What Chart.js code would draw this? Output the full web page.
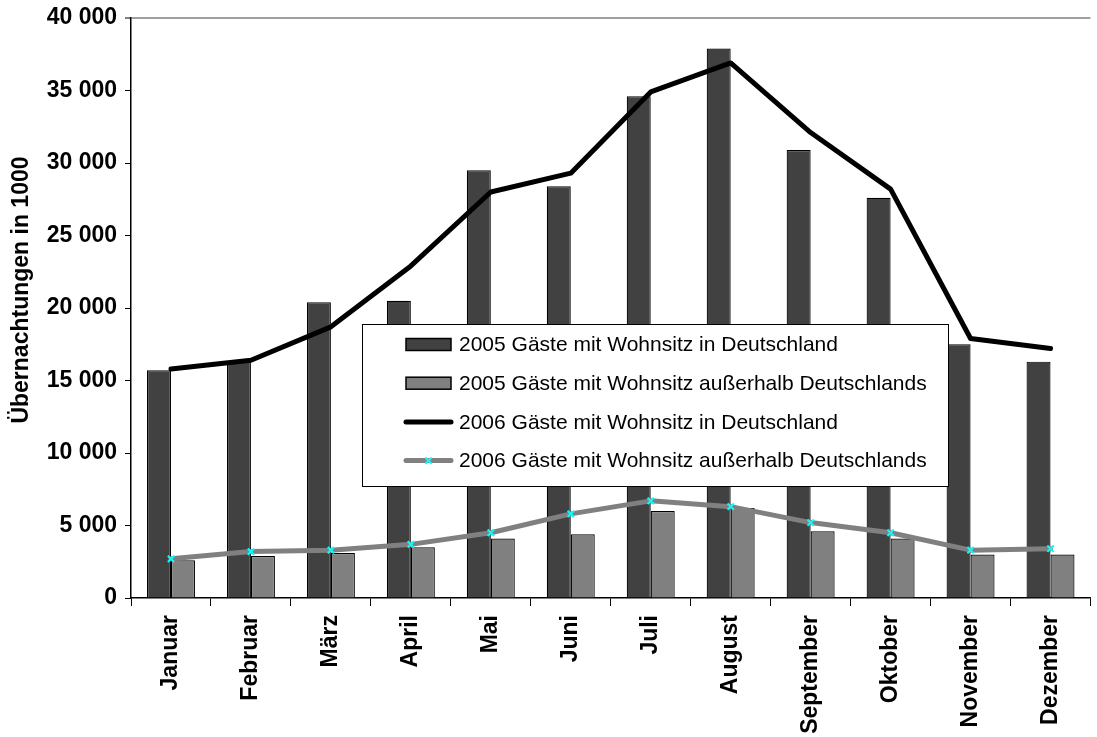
<!DOCTYPE html>
<html lang="de">
<head>
<meta charset="utf-8">
<title>Übernachtungen 2005 und 2006</title>
<script src="https://cdn.jsdelivr.net/npm/chart.js@4/dist/chart.umd.min.js"></script>
<style>
  html, body { margin: 0; padding: 0; background: #fff; }
  #wrap { position: relative; width: 1097px; height: 737px; }
</style>
</head>
<body>
<div id="wrap"><canvas id="chart"></canvas></div>
<script>
// Monate
const months = ['Januar', 'Februar', 'März', 'April', 'Mai', 'Juni', 'Juli',
                'August', 'September', 'Oktober', 'November', 'Dezember'];

// Übernachtungen in 1000
const inland2005  = [15700, 16300, 20400, 20500, 29500, 28400, 34600, 37900, 30900, 27600, 17500, 16300];
const ausland2005 = [2600, 2900, 3100, 3500, 4100, 4400, 6000, 6200, 4600, 4100, 3000, 3000];
const inland2006  = [15800, 16400, 18700, 22900, 28000, 29300, 34900, 36900, 32100, 28200, 17900, 17200];
const ausland2006 = [2700, 3200, 3300, 3700, 4500, 5800, 6700, 6300, 5200, 4500, 3300, 3400];

const seriesNames = [
  '2005 Gäste mit Wohnsitz in Deutschland',
  '2005 Gäste mit Wohnsitz außerhalb Deutschlands',
  '2006 Gäste mit Wohnsitz in Deutschland',
  '2006 Gäste mit Wohnsitz außerhalb Deutschlands'
];
const yTitle = 'Übernachtungen in 1000';
const yMin = 0, yMax = 40000, yStep = 5000;

const FONT = '"Liberation Sans", Arial, Helvetica, sans-serif';
Chart.defaults.font.family = FONT;
Chart.defaults.color = '#000';

function fmt(v) {
  return String(v).replace(/\B(?=(\d{3})+(?!\d))/g, ' ');
}

// Legend box drawn inside the plot area, on top of the columns
const boxLegend = {
  id: 'boxLegend',
  afterDatasetsDraw(chart, args, o) {
    const ctx = chart.ctx;
    ctx.save();
    ctx.fillStyle = '#fff';
    ctx.fillRect(o.x, o.y, o.w, o.h);
    ctx.strokeStyle = '#000';
    ctx.lineWidth = 1;
    ctx.strokeRect(o.x + 0.5, o.y + 0.5, o.w, o.h);
    ctx.font = o.fontSize + 'px ' + FONT;
    ctx.textBaseline = 'middle';
    ctx.textAlign = 'left';
    chart.data.datasets.forEach((ds, i) => {
      const cy = o.firstRow + i * o.rowGap;
      const mx = o.x + o.markerX;
      if (ds.type === 'line') {
        ctx.strokeStyle = ds.borderColor;
        ctx.lineWidth = ds.borderWidth;
        ctx.lineCap = 'round';
        ctx.beginPath();
        ctx.moveTo(mx, cy);
        ctx.lineTo(mx + o.markerW, cy);
        ctx.stroke();
        if (ds.pointRadius > 0) {
          const r = ds.pointRadius * Math.SQRT1_2;
          const px = mx + o.markerW / 2;
          ctx.strokeStyle = ds.pointBorderColor;
          ctx.lineWidth = ds.pointBorderWidth;
          ctx.lineCap = 'butt';
          ctx.beginPath();
          ctx.moveTo(px - r, cy - r); ctx.lineTo(px + r, cy + r);
          ctx.moveTo(px + r, cy - r); ctx.lineTo(px - r, cy + r);
          ctx.stroke();
        }
      } else {
        ctx.fillStyle = ds.backgroundColor;
        ctx.fillRect(mx, cy - 6, o.markerW, 12);
        ctx.strokeStyle = '#000';
        ctx.lineWidth = 1.5;
        ctx.strokeRect(mx, cy - 6, o.markerW, 12);
      }
      ctx.fillStyle = '#000';
      ctx.fillText(ds.label, o.x + o.textX, cy + 1);
    });
    ctx.restore();
  }
};

// Vertical axis title
const axisTitle = {
  id: 'axisTitle',
  afterDraw(chart, args, o) {
    const ctx = chart.ctx;
    const a = chart.chartArea;
    ctx.save();
    ctx.translate(o.x, a.top + (a.bottom - a.top) * o.pos);
    ctx.rotate(-Math.PI / 2);
    ctx.font = 'bold ' + o.fontSize + 'px ' + FONT;
    ctx.fillStyle = '#000';
    ctx.textAlign = 'center';
    ctx.textBaseline = 'middle';
    ctx.fillText(o.text, 0, 0);
    ctx.restore();
  }
};

new Chart(document.getElementById('chart'), {
  data: {
    labels: months,
    datasets: [
      { type: 'bar', label: seriesNames[0], data: inland2005, order: 2,
        backgroundColor: '#414141', borderColor: '#000', borderWidth: 1.2,
        barPercentage: 1, categoryPercentage: 0.6 },
      { type: 'bar', label: seriesNames[1], data: ausland2005, order: 2,
        backgroundColor: '#808080', borderColor: '#000', borderWidth: 1.2,
        barPercentage: 1, categoryPercentage: 0.6 },
      { type: 'line', label: seriesNames[2], data: inland2006, order: 1,
        borderColor: '#000', borderWidth: 5, tension: 0,
        borderJoinStyle: 'round', borderCapStyle: 'round',
        pointRadius: 0, pointHoverRadius: 0 },
      { type: 'line', label: seriesNames[3], data: ausland2006, order: 0,
        borderColor: '#808080', borderWidth: 5, tension: 0,
        borderJoinStyle: 'round', borderCapStyle: 'round',
        pointStyle: 'crossRot', pointRadius: 4.5, pointBorderWidth: 2,
        pointBorderColor: '#00ffff', pointBackgroundColor: '#00ffff' }
    ]
  },
  options: {
    responsive: true,
    maintainAspectRatio: false,
    animation: false,
    layout: { padding: { top: 18, right: 0, bottom: 0, left: 0 } },
    plugins: {
      legend: { display: false },
      tooltip: { enabled: false },
      boxLegend: { x: 362, y: 324, w: 586, h: 162, firstRow: 344.5, rowGap: 38.7,
                   markerX: 44, markerW: 45, textX: 97, fontSize: 21 },
      axisTitle: { text: yTitle, x: 22, pos: 0.469, fontSize: 23 }
    },
    scales: {
      x: {
        offset: true,
        grid: { offset: true, drawOnChartArea: false, tickLength: 8, tickColor: '#000', tickWidth: 1 },
        border: { display: true, color: '#000', width: 1.5 },
        ticks: { font: { size: 23, weight: 'bold' }, color: '#000',
                 maxRotation: 90, minRotation: 90, autoSkip: false, padding: 9 },
        afterFit(scale) { scale.height = 139; scale.paddingLeft = 0; scale.paddingRight = 0; }
      },
      y: {
        min: yMin, max: yMax,
        grid: {
          drawOnChartArea: true,
          color: c => (c.tick && c.tick.value === yMax) ? '#a0a0a0' : 'rgba(0,0,0,0)',
          lineWidth: c => (c.tick && c.tick.value === yMax) ? 2 : 1,
          tickColor: '#000', tickWidth: 1, tickLength: 6
        },
        border: { display: true, color: '#000', width: 1.5 },
        ticks: { stepSize: yStep, font: { size: 23, weight: 'bold' }, color: '#000',
                 padding: 8, callback: v => fmt(v) },
        afterFit(scale) { scale.width = 131; scale.paddingTop = 0; scale.paddingBottom = 0; }
      }
    }
  },
  plugins: [boxLegend, axisTitle]
});
</script>
</body>
</html>
